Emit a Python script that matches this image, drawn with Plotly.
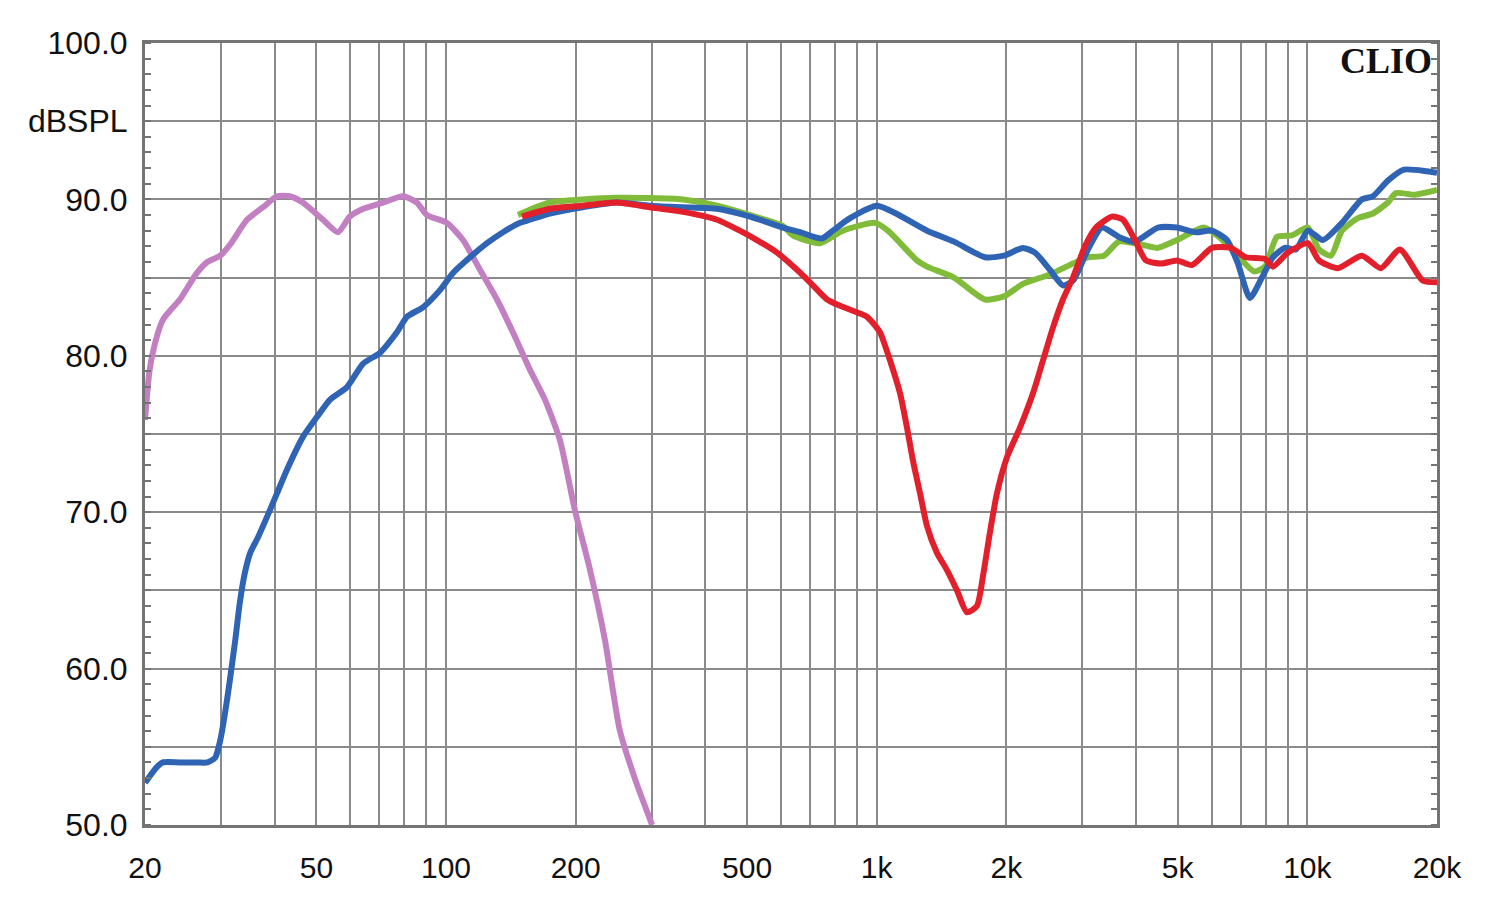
import plotly.graph_objects as go

# ---- data (frequency in Hz, level in dB SPL) ----
pink_f = [20, 20.5, 21.1, 22.0, 22.9, 24.1, 26.4, 27.9, 29.9, 31.5, 34.5, 37.6, 40.5, 43.4,
          46.5, 51.8, 56.1, 59.8, 64.2, 71.4, 79.4, 85.6, 90.3, 100.5, 109.5, 119.9, 131.3,
          143.0, 156.7, 169.7, 183.9, 199.3, 216, 234, 253, 275, 301]
pink_db = [75.9, 79.1, 80.8, 82.3, 82.9, 83.6, 85.3, 86.0, 86.4, 87.1, 88.7, 89.5, 90.2, 90.2,
           89.8, 88.7, 87.9, 88.9, 89.4, 89.8, 90.2, 89.8, 89.0, 88.5, 87.4, 85.5, 83.6,
           81.5, 79.1, 77.2, 74.6, 70.1, 66.3, 61.8, 56.1, 52.9, 50.0]

blue_f = [20, 21.3, 22.0, 24.1, 26.4, 27.9, 29.1, 29.9, 30.7, 31.5, 32.4, 33.2, 34.1, 35.1,
          36.6, 38.4, 40.5, 42.7, 46.5, 50.2, 53.8, 58.9, 64.2, 70.3, 76.9, 81.2, 88.4, 96.8,
          103.8, 113.7, 124.5, 135.6, 148.5, 156.7, 174.3, 208, 249, 297, 355, 426, 508, 606,
          664, 746, 791, 867, 1002, 1109, 1309, 1512, 1784, 1974, 2186, 2331, 2525, 2707,
          2856, 3094, 3334, 3651, 3978, 4498, 4978, 5510, 6004, 6505, 6898, 7356, 7843, 8319,
          8871, 9408, 10030, 10866, 12030, 13386, 14196, 15382, 16756, 18950, 20000]
blue_db = [52.7, 53.7, 54.0, 54.0, 54.0, 54.0, 54.3, 55.4, 57.2, 59.3, 61.8, 64.2, 66.1, 67.4,
           68.4, 69.7, 71.2, 72.7, 74.8, 76.1, 77.2, 78.0, 79.5, 80.2, 81.5, 82.5, 83.1, 84.2,
           85.3, 86.3, 87.2, 87.9, 88.5, 88.7, 89.1, 89.5, 89.8, 89.6, 89.5, 89.4, 88.9, 88.2,
           87.9, 87.5, 88.0, 88.8, 89.6, 89.1, 88.0, 87.3, 86.3, 86.4, 86.9, 86.6, 85.5, 84.5,
           84.8, 86.8, 88.2, 87.6, 87.3, 88.2, 88.2, 87.9, 88.0, 87.4, 85.9, 83.7, 85.0, 86.3,
           86.9, 86.8, 88.0, 87.4, 88.5, 90.0, 90.2, 91.2, 91.9, 91.8, 91.7]

green_f = [146.9, 174.3, 249, 355, 426, 508, 606, 639, 738, 835, 991, 1062, 1240, 1309, 1512,
           1784, 1974, 2186, 2525, 2856, 3094, 3370, 3651, 4129, 4498, 4978, 5751, 6233, 6788,
           7515, 7970, 8498, 9209, 10030, 10636, 11342, 12030, 13103, 14196, 15382, 16054,
           17772, 20000]
green_db = [89.0, 89.8, 90.1, 90.0, 89.6, 89.0, 88.3, 87.7, 87.2, 88.0, 88.5, 88.0, 86.1, 85.7,
            85.0, 83.6, 83.8, 84.6, 85.2, 85.9, 86.3, 86.4, 87.3, 87.1, 86.9, 87.4, 88.2, 87.6,
            86.6, 85.4, 85.7, 87.6, 87.7, 88.2, 86.8, 86.4, 88.0, 88.8, 89.1, 89.8, 90.4,
            90.3, 90.6]

red_f = [150.1, 174.3, 208, 249, 297, 355, 426, 481, 527, 587, 653, 700, 767, 822, 915, 949,
         980, 1018, 1074, 1133, 1176, 1214, 1261, 1309, 1380, 1456, 1536, 1620, 1709, 1765,
         1832, 1902, 2006, 2151, 2306, 2433, 2566, 2707, 2856, 3045, 3229, 3517, 3730, 3978,
         4218, 4595, 4978, 5394, 6004, 6645, 7200, 7970, 8319, 9014, 10030, 10636, 11775,
         13386, 14816, 16402, 18548, 20000]
red_db = [88.9, 89.4, 89.6, 89.8, 89.5, 89.2, 88.7, 88.0, 87.4, 86.6, 85.5, 84.7, 83.6, 83.2,
          82.7, 82.5, 82.1, 81.5, 79.7, 77.6, 75.4, 73.3, 71.2, 69.1, 67.4, 66.3, 65.0, 63.6,
          64.0, 65.9, 68.7, 71.2, 73.5, 75.4, 77.6, 79.7, 81.8, 83.6, 85.0, 87.0, 88.2, 88.9,
          88.7, 87.4, 86.1, 85.9, 86.1, 85.8, 86.9, 86.9, 86.3, 86.2, 85.7, 86.6, 87.2, 86.1,
          85.6, 86.4, 85.6, 86.8, 84.8, 84.7]

x_grid = [20, 30, 40, 50, 60, 70, 80, 90, 100, 200, 300, 400, 500, 600, 700, 800, 900,
          1000, 2000, 3000, 4000, 5000, 6000, 7000, 8000, 9000, 10000, 20000]
x_labels = {20: "20", 50: "50", 100: "100", 200: "200", 500: "500", 1000: "1k",
            2000: "2k", 5000: "5k", 10000: "10k", 20000: "20k"}
y_grid = [50, 55, 60, 65, 70, 75, 80, 85, 90, 95, 100]
y_labels = {50: "50.0", 60: "60.0", 70: "70.0", 80: "80.0", 90: "90.0", 95: "dBSPL", 100: "100.0"}

series = [
    ("pink", pink_f, pink_db, "#C280C2"),
    ("green", green_f, green_db, "#80BC3A"),
    ("blue", blue_f, blue_db, "#2F64B4"),
    ("red", red_f, red_db, "#E2202C"),
]

fig = go.Figure()
for name, f, db, col in series:
    fig.add_trace(go.Scatter(x=f, y=db, mode="lines", name=name,
                             line=dict(color=col, width=6, shape="spline", smoothing=0.6),
                             hoverinfo="x+y"))

grid_col = "#8a8a8a"
frame_col = "#747474"

fig.update_layout(
    width=1500, height=903, autosize=False,
    margin=dict(l=145, r=63, t=43, b=78),
    paper_bgcolor="white", plot_bgcolor="white",
    showlegend=False,
    xaxis=dict(
        type="log", range=[1.30103, 4.30103],
        tickmode="array", tickvals=x_grid,
        ticktext=[x_labels.get(v, "") for v in x_grid],
        showgrid=True, gridcolor=grid_col, gridwidth=1.5,
        showline=True, linecolor=frame_col, linewidth=3, mirror=True,
        ticks="", ticklabelstandoff=14,
        tickfont=dict(family="Liberation Sans, Arial", size=30, color="#111111"),
        zeroline=False,
    ),
    yaxis=dict(
        range=[50, 100],
        tickmode="array", tickvals=y_grid,
        ticktext=[y_labels.get(v, "") for v in y_grid],
        showgrid=True, gridcolor=grid_col, gridwidth=1.5,
        showline=True, linecolor=frame_col, linewidth=3, mirror="ticks",
        ticks="", ticklabelstandoff=8,
        minor=dict(tickmode="linear", tick0=50, dtick=1, ticks="inside", ticklen=6,
                   tickcolor=frame_col, tickwidth=1.5, showgrid=False),
        tickfont=dict(family="Liberation Sans, Arial", size=32, color="#111111"),
        zeroline=False,
    ),
)

fig.add_annotation(
    x=1, y=1, xref="paper", yref="paper", xanchor="right", yanchor="top",
    xshift=-3, yshift=4,
    text="<b>CLIO</b>", showarrow=False,
    font=dict(family="Liberation Serif, Times New Roman, serif", size=36, color="#111111"),
)

fig.write_html("out.html")
